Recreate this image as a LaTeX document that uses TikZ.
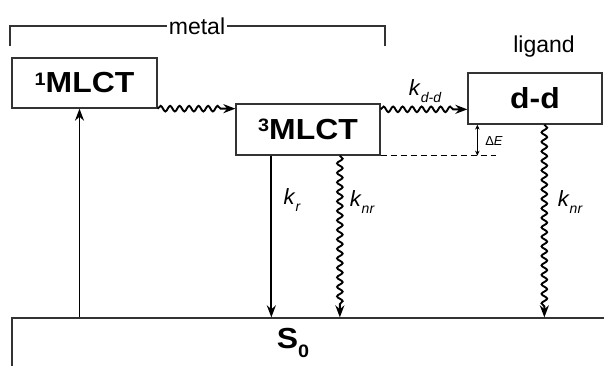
\documentclass[tikz,border=0pt]{standalone}
\usepackage{fontspec}
\setmainfont{Liberation Sans}
\usetikzlibrary{arrows.meta,decorations.pathmorphing,calc}
\newcommand\mysup[1]{\raisebox{7.5pt}{\fontsize{18}{18}\selectfont #1}}
\newcommand\mysub[1]{\raisebox{-0.35em}{\fontsize{14}{14}\selectfont\itshape #1}}
\newcommand\wide[1]{\scalebox{1.1}[1]{#1}}
\begin{document}
\begin{tikzpicture}[x=1pt,y=-1pt,
  box/.style={draw=black!80, line width=1.3pt, rectangle, inner sep=0pt,
    font=\fontsize{29}{30}\selectfont\bfseries},
  reg/.style={font=\fontsize{23}{24}\selectfont, inner sep=2pt},
  klab/.style={font=\fontsize{22}{22}\selectfont, inner sep=1pt},
  conn/.style={line width=1.9pt, draw=black, -{Stealth[length=12pt,width=9pt]}},
  wavy/.style={conn, decorate, decoration={snake, amplitude=2.8pt, segment length=9.5pt, post length=11pt}},
  bracket/.style={draw=black!80, line width=1.3pt}]
\useasboundingbox (0,0) rectangle (604,365);
\clip (0,0) rectangle (604,365);

% boxes
\node[box, minimum width=145pt, minimum height=50pt] (m1) at (84.5,83) {\wide{\mysup{1}MLCT}};
\node[box, minimum width=144pt, minimum height=51pt] (m3) at (308,129.5) {\wide{\mysup{3}MLCT}};
\node[box, minimum width=134pt, minimum height=51pt] (dd) at (535,98.5) {\wide{d-d}};
\node[draw=black!80, line width=1.3pt, minimum width=628pt, minimum height=82pt, inner sep=0pt] (s0) at (326,359) {};
\node[font=\fontsize{29}{30}\selectfont\bfseries, inner sep=0pt] (s0l) at (293,343) {\wide{S\raisebox{-0.3em}{\fontsize{18}{18}\selectfont 0}}};

% labels
\node[reg] (metal) at (197,26) {metal};
\node[reg] (lig) at (544,47) {ligand};
\coordinate (bl) at (10,46);
\coordinate (br) at (385,46);
\draw[bracket] (bl) |- (metal.west);
\draw[bracket] (br) |- (metal.east);

% excitation
\draw[conn] (s0.north -| m1.south) ++(-5,0) coordinate (exs) -- (exs |- m1.south);

% ISC
\draw[wavy] (m1.south east) -- (m1.south east -| m3.west);

% k_dd
\coordinate (kddstart) at ([yshift=-6pt]m3.north east);
\draw[wavy] (kddstart) -- (kddstart -| dd.west);
\node[klab] (kdd) at (425,91) {\textit{k}\mysub{d-d}};

% dashed line and Delta E
\coordinate (dashend) at ($(m3.south east)+(115,0)$);
\draw[line width=1.3pt, dash pattern=on 6pt off 4pt] (m3.south east) -- (dashend);
\coordinate (dEtop) at ($(dd.south west)+(10,0)$);
\draw[line width=1pt, {Stealth[length=5pt,width=4.5pt]}-{Stealth[length=5pt,width=4.5pt]}] (dEtop) -- (dEtop |- m3.south);
\node[font=\fontsize{13}{13}\selectfont, inner sep=0pt] (dE) at (494,141) {Δ\textit{E}};

% decays from 3MLCT
\coordinate (krs) at ($(m3.south west)+(36,0)$);
\draw[conn] (krs) -- (krs |- s0.north);
\node[klab] (kr) at (292,200) {\textit{k}\mysub{r}};
\coordinate (knrs) at ($(m3.south west)+(104.5,0)$);
\draw[wavy] (knrs) -- (knrs |- s0.north);
\node[klab] (knr1) at (362,202) {\textit{k}\mysub{nr}};

% decay from d-d
\coordinate (knr2s) at ($(dd.south west)+(77,0)$);
\draw[wavy] (knr2s) -- (knr2s |- s0.north);
\node[klab] (knr2) at (570,202) {\textit{k}\mysub{nr}};
\end{tikzpicture}
\end{document}
